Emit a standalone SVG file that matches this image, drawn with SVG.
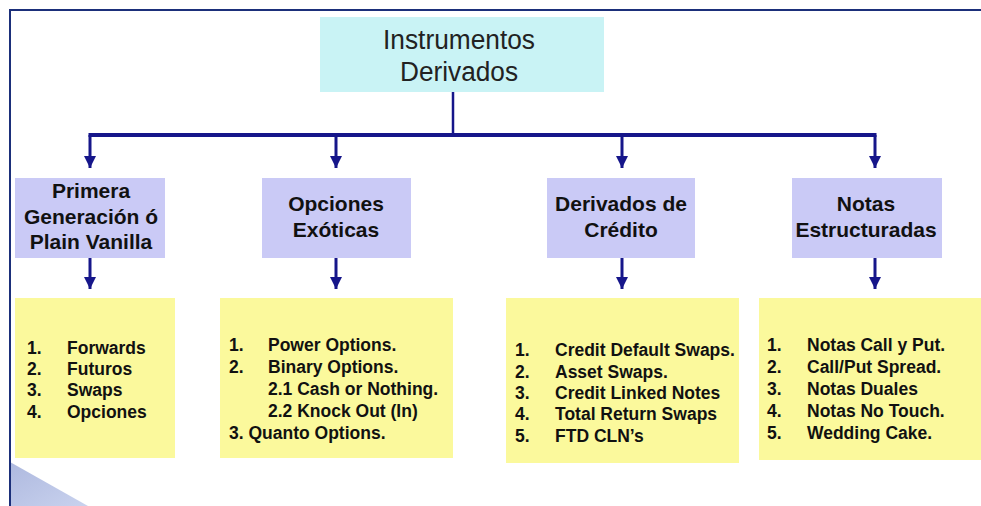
<svg xmlns="http://www.w3.org/2000/svg" width="981" height="506" viewBox="0 0 981 506">
<defs>
<marker id="ah" markerWidth="12" markerHeight="12" refX="10" refY="5" orient="auto" markerUnits="userSpaceOnUse" viewBox="0 0 10 10">
<path d="M0,0 L10,5 L0,10 Z" fill="#16168a"/>
</marker>
<linearGradient id="tri" x1="0" y1="0" x2="1" y2="1">
<stop offset="0" stop-color="#aeb9df"/>
<stop offset="1" stop-color="#c9d2ee"/>
</linearGradient>
<style>
.root{fill:#c9f3f5}
.cat{fill:#cacaf6}
.list{fill:#fbf99c}
.t1{font-family:"Liberation Sans",Arial,sans-serif;font-size:27px;fill:#222;text-anchor:middle}
.t2{font-family:"Liberation Sans",Arial,sans-serif;font-size:21px;font-weight:bold;fill:#111;text-anchor:middle}
.t3{font-family:"Liberation Sans",Arial,sans-serif;font-size:17.5px;font-weight:bold;fill:#111}
.c{stroke:#16168a;fill:none}
</style>
</defs>
<rect x="0" y="0" width="981" height="506" fill="#ffffff"/>
<polygon points="10,462 88,506 10,506" fill="url(#tri)"/>
<path d="M10,506 L10,10 L981,10" fill="none" stroke="#1b2f7a" stroke-width="2"/>

<g id="connectors">
<line class="c" x1="453" y1="92" x2="453" y2="134" stroke-width="2.5"/>
<line class="c" x1="88.5" y1="135" x2="876.5" y2="135" stroke-width="4"/>
<line class="c" x1="90" y1="135" x2="90" y2="168" stroke-width="3" marker-end="url(#ah)"/>
<line class="c" x1="336" y1="135" x2="336" y2="168" stroke-width="3" marker-end="url(#ah)"/>
<line class="c" x1="622" y1="135" x2="622" y2="168" stroke-width="3" marker-end="url(#ah)"/>
<line class="c" x1="875" y1="135" x2="875" y2="168" stroke-width="3" marker-end="url(#ah)"/>
<line class="c" x1="90" y1="258" x2="90" y2="289" stroke-width="3" marker-end="url(#ah)"/>
<line class="c" x1="336" y1="258" x2="336" y2="289" stroke-width="3" marker-end="url(#ah)"/>
<line class="c" x1="622" y1="258" x2="622" y2="289" stroke-width="3" marker-end="url(#ah)"/>
<line class="c" x1="875" y1="258" x2="875" y2="289" stroke-width="3" marker-end="url(#ah)"/>
</g>

<g id="root">
<rect class="root" x="320" y="17" width="284" height="75"/>
<text class="t1" x="459" y="49" textLength="152" lengthAdjust="spacingAndGlyphs">Instrumentos</text>
<text class="t1" x="459" y="81" textLength="118" lengthAdjust="spacingAndGlyphs">Derivados</text>
</g>

<g id="cat1">
<rect class="cat" x="15" y="178" width="150" height="80"/>
<text class="t2" x="91" y="198">Primera</text>
<text class="t2" x="91" y="224">Generación ó</text>
<text class="t2" x="91" y="249">Plain Vanilla</text>
</g>
<g id="cat2">
<rect class="cat" x="262" y="178" width="149" height="80"/>
<text class="t2" x="336" y="211">Opciones</text>
<text class="t2" x="336" y="237">Exóticas</text>
</g>
<g id="cat3">
<rect class="cat" x="547" y="178" width="148" height="80"/>
<text class="t2" x="621" y="211">Derivados de</text>
<text class="t2" x="621" y="237">Crédito</text>
</g>
<g id="cat4">
<rect class="cat" x="792" y="178" width="150" height="80"/>
<text class="t2" x="866" y="211">Notas</text>
<text class="t2" x="866" y="237">Estructuradas</text>
</g>

<g id="list1">
<rect class="list" x="15" y="298" width="160" height="160"/>
<text class="t3" x="27" y="354">1.</text><text class="t3" x="67" y="354">Forwards</text>
<text class="t3" x="27" y="375">2.</text><text class="t3" x="67" y="375">Futuros</text>
<text class="t3" x="27" y="396">3.</text><text class="t3" x="67" y="396">Swaps</text>
<text class="t3" x="27" y="418">4.</text><text class="t3" x="67" y="418">Opciones</text>
</g>
<g id="list2">
<rect class="list" x="220" y="298" width="233" height="160"/>
<text class="t3" x="229" y="351">1.</text><text class="t3" x="268" y="351">Power Options.</text>
<text class="t3" x="229" y="373">2.</text><text class="t3" x="268" y="373">Binary Options.</text>
<text class="t3" x="268" y="395">2.1 Cash or Nothing.</text>
<text class="t3" x="268" y="417">2.2 Knock Out (In)</text>
<text class="t3" x="229" y="439">3. Quanto Options.</text>
</g>
<g id="list3">
<rect class="list" x="506" y="298" width="233" height="165"/>
<text class="t3" x="515" y="356">1.</text><text class="t3" x="555" y="356">Credit Default Swaps.</text>
<text class="t3" x="515" y="378">2.</text><text class="t3" x="555" y="378">Asset Swaps.</text>
<text class="t3" x="515" y="399">3.</text><text class="t3" x="555" y="399">Credit Linked Notes</text>
<text class="t3" x="515" y="420">4.</text><text class="t3" x="555" y="420">Total Return Swaps</text>
<text class="t3" x="515" y="442">5.</text><text class="t3" x="555" y="442">FTD CLN’s</text>
</g>
<g id="list4">
<rect class="list" x="759" y="298" width="222" height="162"/>
<text class="t3" x="767" y="351">1.</text><text class="t3" x="807" y="351">Notas Call y Put.</text>
<text class="t3" x="767" y="373">2.</text><text class="t3" x="807" y="373">Call/Put Spread.</text>
<text class="t3" x="767" y="395">3.</text><text class="t3" x="807" y="395">Notas Duales</text>
<text class="t3" x="767" y="417">4.</text><text class="t3" x="807" y="417">Notas No Touch.</text>
<text class="t3" x="767" y="439">5.</text><text class="t3" x="807" y="439">Wedding Cake.</text>
</g>
</svg>
